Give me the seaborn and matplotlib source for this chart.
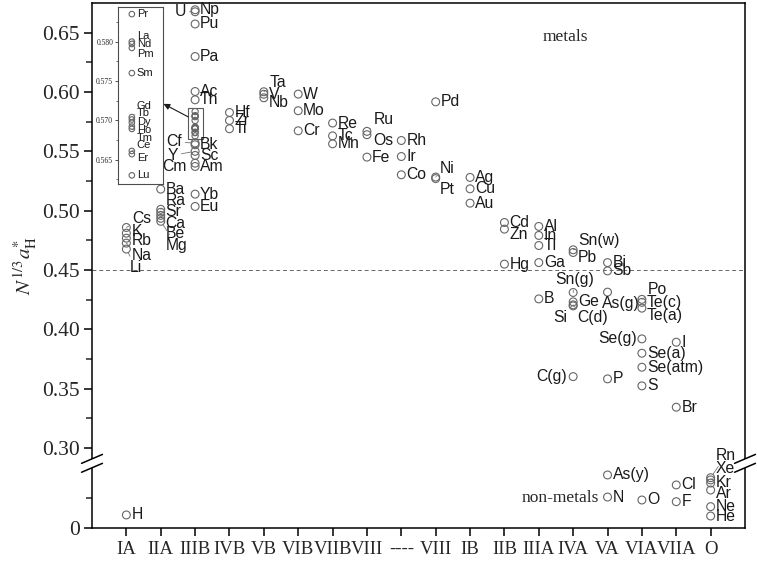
import numpy as np
import pandas as pd
import seaborn as sns
import matplotlib.pyplot as plt
from matplotlib.patches import Rectangle

sns.set_style("ticks")
plt.rcParams['font.family'] = ['Liberation Serif', 'DejaVu Serif']
plt.rcParams['mathtext.fontset'] = 'stix'

# group columns along the x axis
groups = ['IA', 'IIA', 'IIIB', 'IVB', 'VB', 'VIB', 'VIIB', 'VIII', '----', 'VIII',
          'IB', 'IIB', 'IIIA', 'IVA', 'VA', 'VIA', 'VIIA', 'O']

# elements, column (1-based) and N^(1/3) a_H* value
elements = ['Cs', 'K', 'Rb', 'Na', 'Li', 'H',
            'Ba', 'Ra', 'Sr', 'Ca', 'Be', 'Mg',
            'U', 'Np', 'Pu', 'Pa', 'Ac', 'Th', 'Cf', 'Bk', 'Y', 'Sc', 'Cm', 'Am', 'Yb', 'Eu',
            'Hf', 'Zr', 'Ti',
            'Ta', 'V', 'Nb',
            'W', 'Mo', 'Cr',
            'Re', 'Tc', 'Mn',
            'Ru', 'Os', 'Fe',
            'Rh', 'Ir', 'Co',
            'Pd', 'Ni', 'Pt',
            'Ag', 'Cu', 'Au',
            'Cd', 'Zn', 'Hg',
            'Al', 'In', 'Tl', 'Ga', 'B',
            'Sn(w)', 'Pb', 'Sn(g)', 'Ge', 'Si', 'C(d)', 'C(g)',
            'Bi', 'Sb', 'As(g)', 'P', 'As(y)', 'N',
            'Po', 'Te(c)', 'Te(a)', 'Se(g)', 'Se(a)', 'Se(atm)', 'S', 'O',
            'I', 'Br', 'Cl', 'F',
            'Rn', 'Xe', 'Kr', 'Ar', 'Ne', 'He']
columns = [1, 1, 1, 1, 1, 1,
           2, 2, 2, 2, 2, 2,
           3, 3, 3, 3, 3, 3, 3, 3, 3, 3, 3, 3, 3, 3,
           4, 4, 4,
           5, 5, 5,
           6, 6, 6,
           7, 7, 7,
           8, 8, 8,
           9, 9, 9,
           10, 10, 10,
           11, 11, 11,
           12, 12, 12,
           13, 13, 13, 13, 13,
           14, 14, 14, 14, 14, 14, 14,
           15, 15, 15, 15, 15, 15,
           16, 16, 16, 16, 16, 16, 16, 16,
           17, 17, 17, 17,
           18, 18, 18, 18, 18, 18]
values = [0.4858, 0.4810, 0.4768, 0.4726, 0.4676, 0.0110,
          0.5181, 0.5011, 0.4986, 0.4960, 0.4935, 0.4910,
          0.6676, 0.6693, 0.6573, 0.6299, 0.6004, 0.5934, 0.5570, 0.5555, 0.5500, 0.5465,
          0.5400, 0.5372, 0.5139, 0.5035,
          0.5827, 0.5760, 0.5690,
          0.6002, 0.5981, 0.5951,
          0.5982, 0.5842, 0.5673,
          0.5738, 0.5630, 0.5563,
          0.5668, 0.5640, 0.5451,
          0.5591, 0.5456, 0.5302,
          0.5917, 0.5283, 0.5270,
          0.5280, 0.5184, 0.5063,
          0.4900, 0.4844, 0.4549,
          0.4867, 0.4791, 0.4706, 0.4562, 0.4256,
          0.4670, 0.4647, 0.4310, 0.4231, 0.4206, 0.4197, 0.3601,
          0.4562, 0.4492, 0.4313, 0.3582, 0.0447, 0.0261,
          0.4252, 0.4227, 0.4178, 0.3919, 0.3798, 0.3680, 0.3523, 0.0236,
          0.3891, 0.3343, 0.0363, 0.0222,
          0.0424, 0.0405, 0.0379, 0.0320, 0.0180, 0.0101]

# lanthanides (column IIIB), shown enlarged in the inset
lanthanides = ['Pr', 'La', 'Nd', 'Pm', 'Sm', 'Gd', 'Tb', 'Dy', 'Ho', 'Tm', 'Ce', 'Er', 'Lu']
lan_values = [0.5835, 0.5800, 0.5797, 0.5792, 0.5760, 0.5704, 0.5701, 0.5697, 0.5692,
              0.5689, 0.5661, 0.5657, 0.5630]

# label placement: (dx px, dy px, ha, leader line)
label_pos = {
    'U': (-9, 0, 'right', True), 'Cf': (-13, 1, 'right', True),
    'Y': (-17, -4, 'right', True), 'Cm': (-8, -3, 'right', True),
    'Ta': (6, 9, 'left', True), 'Nb': (5, -5, 'left', False),
    'Ru': (7, 12, 'left', True), 'Os': (6, -6, 'left', False),
    'Ni': (4, 9, 'left', True), 'Pt': (4, -11, 'left', False),
    'Zn': (5, -5, 'left', False), 'Sn(w)': (5, 9, 'left', True), 'Pb': (5, -5, 'left', False),
    'Sn(g)': (-18, 13, 'left', True), 'Si': (-6, -13, 'right', True),
    'C(d)': (4, -12, 'left', True), 'As(g)': (-6, -11, 'left', False),
    'Po': (6, 10, 'left', True), 'Te(a)': (5, -7, 'left', False),
    'Se(g)': (-5, 0, 'right', False), 'C(g)': (-6, 0, 'right', False),
    'Li': (3, -18, 'left', True), 'Na': (5, -12, 'left', True), 'Rb': (5, -2, 'left', False),
    'K': (5, 2, 'left', False), 'Cs': (6, 9, 'left', True),
    'Ra': (5, 9, 'left', True), 'Sr': (5, 1, 'left', False), 'Ca': (5, -8, 'left', True),
    'Be': (5, -15, 'left', True), 'Mg': (5, -24, 'left', True),
    'Rn': (5, 22, 'left', True), 'Xe': (5, 11, 'left', True), 'Kr': (5, 1, 'left', False),
    'Ar': (5, -3, 'left', False),
    'La': (5, 6, 'left', True), 'Pm': (5, -6, 'left', False), 'Gd': (5, 11, 'left', True),
    'Tb': (5, 6, 'left', True), 'Dy': (5, 1, 'left', False), 'Ho': (5, -3, 'left', False),
    'Tm': (5, -9, 'left', True), 'Ce': (5, 6, 'left', True), 'Er': (5, -4, 'left', False),
}

# broken y axis: 0..A (non-metals) joined to B..top (metals)
A, B, GAP = 0.054, 0.2875, 0.001
SHIFT = B - A - GAP


def fwd(v):
    v = np.asarray(v, dtype=float)
    return np.where(v <= A, v, np.where(v >= B, v - SHIFT, A + (v - A) * GAP / (B - A)))


def inv(d):
    d = np.asarray(d, dtype=float)
    return np.where(d <= A, d, np.where(d >= A + GAP, d + SHIFT, A + (d - A) * (B - A) / GAP))


df = pd.DataFrame({'element': elements, 'col': columns, 'value': values})
lan = pd.DataFrame({'element': lanthanides, 'col': 3, 'value': lan_values})

fig = plt.figure(figsize=(7.57, 5.61), dpi=100)
ax = fig.add_axes([92 / 757, 33 / 561, 653 / 757, 525 / 561])
ax.set_yscale('function', functions=(fwd, inv))

mk = dict(marker='o', s=32, facecolor='none', edgecolor='0.4', linewidth=0.8, legend=False, zorder=3)
sns.scatterplot(data=df, x='col', y='value', ax=ax, **mk)
sns.scatterplot(data=lan, x='col', y='value', ax=ax, **dict(mk, s=20))

ax.set_xlim(0, 19)
ax.set_ylim(0, 0.675)

lab_kw = dict(family=['Liberation Sans', 'DejaVu Sans'], color='0.1', va='center')


def put_labels(axis, frame, size):
    for name, x, y in zip(frame['element'], frame['col'], frame['value']):
        dx, dy, ha, line = label_pos.get(name, (5, 0, 'left', False))
        arrow = dict(arrowstyle='-', color='0.45', lw=0.6, shrinkA=0, shrinkB=2.8) if line else None
        axis.annotate(name, (x, y), xytext=(dx, dy), textcoords='offset pixels',
                      ha=ha, arrowprops=arrow, fontsize=size, **lab_kw)


put_labels(ax, df, 11.3)

ax.axhline(0.45, color='0.4', lw=0.7, ls=(0, (4, 3)), zorder=1)

ax.set_xticks(range(1, 19), groups)
ax.set_yticks([0, 0.30, 0.35, 0.40, 0.45, 0.50, 0.55, 0.60, 0.65],
              ['0', '0.30', '0.35', '0.40', '0.45', '0.50', '0.55', '0.60', '0.65'])
ax.set_yticks([0.025] + [0.325 + 0.05 * i for i in range(7)], minor=True)
ax.tick_params(axis='both', which='major', direction='out', length=6, width=1.1, color='k')
ax.tick_params(axis='x', which='major', labelsize=13.5)
ax.tick_params(axis='y', which='major', labelsize=15.5, pad=3)
ax.tick_params(axis='y', which='minor', direction='out', length=4, width=1.1)
for s in ax.spines.values():
    s.set_linewidth(1.1)
    s.set_color('k')
ax.set_xlabel('')
ax.set_ylabel(r'$N^{1/3}a^{*}_{\mathrm{H}}$', fontsize=15, labelpad=2)

ax.text(13.78, 0.6465, 'metals', ha='center', va='center', fontsize=12.5)
ax.text(13.63, 0.0253, 'non-metals', ha='center', va='center', fontsize=12.5)

# axis break marks on both side spines
yb = float((A + GAP / 2) / fwd(0.675))
for xs in (0, 1):
    ax.plot([xs, xs], [yb - 0.008, yb + 0.008], transform=ax.transAxes, color='w',
            lw=3, clip_on=False, zorder=5, solid_capstyle='butt')
    for off in (-0.0085, 0.0085):
        ax.plot([xs - 0.016, xs + 0.016], [yb + off - 0.0085, yb + off + 0.0085],
                transform=ax.transAxes, color='k', lw=1.1, clip_on=False, zorder=6)

# box around the lanthanides and arrow to the inset
ax.add_patch(Rectangle((2.8, 0.5605), 0.44, 0.0262, fill=False, ec='0.35', lw=0.8, zorder=2))
ax.annotate('', xy=(2.08, 0.590), xytext=(2.8, 0.579),
            arrowprops=dict(arrowstyle='-|>', color='0.1', lw=0.8, mutation_scale=9,
                            shrinkA=0, shrinkB=0))

# inset with the lanthanides
ins = fig.add_axes([118 / 757, (561 - 184) / 561, 45 / 757, 177 / 561])
sns.scatterplot(data=lan, x='col', y='value', ax=ins, **dict(mk, s=16))
ins.set_xlim(2.6, 3.9)
ins.set_ylim(0.5619, 0.5844)
ins.set_xticks([])
ins.set_xlabel('')
ins.set_ylabel('')
ins.set_yticks([0.565, 0.570, 0.575, 0.580], ['0.565', '0.570', '0.575', '0.580'])
ins.set_yticks([0.5625, 0.5675, 0.5725, 0.5775, 0.5825], minor=True)
ins.tick_params(axis='y', which='major', direction='out', length=2.5, width=0.7,
                labelsize=5.5, pad=1, color='0.3')
ins.tick_params(axis='y', which='minor', direction='out', length=1.5, width=0.6, color='0.3')
for s in ins.spines.values():
    s.set_linewidth(0.8)
    s.set_color('0.3')
put_labels(ins, lan, 8)

plt.savefig('out.png', dpi=100)
